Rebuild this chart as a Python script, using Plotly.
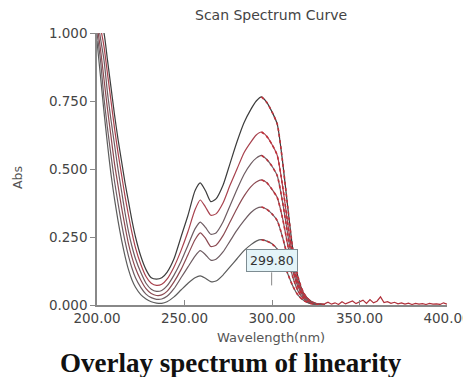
import plotly.graph_objects as go

wavelength = [200, 202, 204, 206, 208, 210, 212, 214, 216, 218, 220, 222, 225, 228, 231, 234, 237, 240,
              244, 248, 252, 256, 259, 262, 265, 268, 272, 276, 280, 284, 288, 291, 294, 297, 300, 303,
              306, 309, 312, 315, 318, 321, 324, 327, 330]

abs_c1 = [1.08, 1.04, 1.0, 0.9, 0.8, 0.7, 0.61, 0.53, 0.45, 0.38, 0.31, 0.25, 0.18, 0.13, 0.10, 0.095, 0.10, 0.12,
          0.17, 0.25, 0.33, 0.42, 0.449, 0.42, 0.38, 0.39, 0.44, 0.52, 0.60, 0.67, 0.72, 0.75, 0.765, 0.745, 0.71, 0.665,
          0.53, 0.36, 0.20, 0.10, 0.045, 0.02, 0.008, 0.003, 0.002]
abs_c2 = [1.08, 1.02, 0.95, 0.85, 0.75, 0.65, 0.56, 0.48, 0.40, 0.33, 0.265, 0.21, 0.15, 0.105, 0.08, 0.072, 0.076, 0.095,
          0.14, 0.20, 0.27, 0.35, 0.386, 0.36, 0.33, 0.335, 0.375, 0.44, 0.50, 0.56, 0.60, 0.625, 0.636, 0.62, 0.59, 0.55,
          0.44, 0.30, 0.17, 0.085, 0.04, 0.017, 0.007, 0.003, 0.002]
abs_c3 = [1.06, 0.98, 0.90, 0.78, 0.68, 0.59, 0.50, 0.42, 0.34, 0.27, 0.215, 0.17, 0.12, 0.08, 0.058, 0.05, 0.053, 0.07,
          0.11, 0.16, 0.22, 0.28, 0.305, 0.285, 0.26, 0.265, 0.305, 0.365, 0.425, 0.48, 0.52, 0.54, 0.55, 0.535, 0.51, 0.475,
          0.38, 0.26, 0.145, 0.075, 0.035, 0.015, 0.006, 0.003, 0.002]
abs_c4 = [1.03, 0.94, 0.83, 0.72, 0.62, 0.52, 0.44, 0.36, 0.29, 0.225, 0.175, 0.135, 0.092, 0.06, 0.042, 0.035, 0.037, 0.05,
          0.085, 0.13, 0.185, 0.24, 0.265, 0.245, 0.215, 0.22, 0.255, 0.305, 0.355, 0.40, 0.435, 0.452, 0.46, 0.45, 0.425, 0.395,
          0.32, 0.22, 0.125, 0.065, 0.03, 0.012, 0.005, 0.002, 0.001]
abs_c5 = [1.0, 0.9, 0.76, 0.65, 0.55, 0.455, 0.375, 0.30, 0.235, 0.18, 0.135, 0.10, 0.065, 0.04, 0.027, 0.021, 0.022, 0.032,
          0.06, 0.10, 0.14, 0.18, 0.20, 0.185, 0.165, 0.168, 0.195, 0.235, 0.275, 0.31, 0.34, 0.355, 0.36, 0.352, 0.335, 0.31,
          0.25, 0.175, 0.10, 0.05, 0.024, 0.01, 0.004, 0.002, 0.001]
abs_c6 = [0.97, 0.84, 0.71, 0.59, 0.48, 0.39, 0.31, 0.24, 0.18, 0.13, 0.092, 0.065, 0.038, 0.022, 0.012, 0.007, 0.006, 0.012,
          0.03, 0.055, 0.08, 0.10, 0.107, 0.098, 0.086, 0.088, 0.11, 0.14, 0.17, 0.20, 0.222, 0.235, 0.24, 0.235, 0.225, 0.205,
          0.165, 0.115, 0.068, 0.035, 0.017, 0.007, 0.003, 0.001, 0.001]

baseline_wl = [330, 332, 334, 336, 338, 340, 342, 344, 346, 348, 350, 352, 354, 356, 358, 360, 362, 364, 366, 368,
               370, 372, 374, 376, 378, 380, 382, 384, 386, 388, 390, 392, 394, 396, 398, 400]
baseline_abs = [0.004, 0.010, 0.003, 0.008, 0.002, 0.012, 0.004, 0.009, 0.015, 0.005, 0.011, 0.018, 0.006, 0.020, 0.008,
                0.014, 0.030, 0.009, 0.012, 0.006, 0.010, 0.004, 0.008, 0.003, 0.007, 0.002, 0.006, 0.003, 0.005, 0.002,
                0.006, 0.003, 0.004, 0.002, 0.008, 0.003]

series = [abs_c1, abs_c2, abs_c3, abs_c4, abs_c5, abs_c6]
line_colors = ["#3c3c3c", "#a8424e", "#6e5c62", "#8c4a52", "#6e5c62", "#5c5c5c"]

x_ticks = [200, 250, 300, 350, 400]
y_ticks = [0.0, 0.25, 0.5, 0.75, 1.0]
peak_label_wl = 299.80
peak_label_abs = 0.165

fig = go.Figure()
for vals, col in zip(series, line_colors):
    fig.add_trace(go.Scatter(x=wavelength, y=vals, mode="lines", line=dict(color=col, width=1.2, shape="spline", smoothing=0.6),
                             hoverinfo="skip", showlegend=False))
    fig.add_trace(go.Scatter(x=wavelength[32:], y=vals[32:], mode="lines",
                             line=dict(color="#c0303a", width=1.6, dash="dot", shape="spline", smoothing=0.6),
                             hoverinfo="skip", showlegend=False))

fig.add_trace(go.Scatter(x=baseline_wl, y=baseline_abs, mode="lines", line=dict(color="#b0303a", width=1.2),
                         hoverinfo="skip", showlegend=False))

fig.add_annotation(x=peak_label_wl, y=peak_label_abs, xref="x", yref="y", text="299.80", showarrow=False,
                   xanchor="center", yanchor="middle",
                   font=dict(family="DejaVu Sans", size=12.5, color="#333"), bgcolor="#e4f4f8",
                   bordercolor="#7d8c92", borderwidth=1, borderpad=3)
fig.add_shape(type="line", xref="x", yref="y", x0=peak_label_wl, x1=peak_label_wl, y0=0.072, y1=0.12,
              line=dict(color="#888", width=1))

tick_font = dict(family="DejaVu Sans", size=13.5, color="#444")
fig.update_layout(
    width=463, height=369,
    margin=dict(l=89, r=24, t=25, b=72, autoexpand=False),
    paper_bgcolor="white", plot_bgcolor="white",
    font=dict(family="DejaVu Sans", size=13, color="#444"),
    xaxis=dict(range=[200, 400], tickvals=x_ticks, tickformat=".2f", ticks="inside", ticklen=5,
               tickcolor="#888", showline=True, linecolor="#888", linewidth=1.5, showgrid=False,
               zeroline=False, tickfont=tick_font, automargin=False),
    yaxis=dict(range=[0, 1], tickvals=y_ticks, tickformat=".3f", ticks="outside", ticklen=5,
               tickcolor="#888", showline=True, linecolor="#888", linewidth=1.5, showgrid=False,
               zeroline=False, tickfont=tick_font, automargin=False),
)

fig.add_annotation(x=0.497, y=1.066, xref="paper", yref="paper", text="Scan Spectrum Curve", showarrow=False,
                   xanchor="center", yanchor="middle",
                   font=dict(family="DejaVu Sans", size=14, color="#444"))
fig.add_annotation(x=0.497, y=-0.12, xref="paper", yref="paper", text="Wavelength(nm)", showarrow=False,
                   xanchor="center", yanchor="middle", borderpad=0,
                   font=dict(family="DejaVu Sans", size=13, color="#555"))
fig.add_annotation(x=-0.2257, y=0.467, xref="paper", yref="paper", text="Abs", showarrow=False, textangle=-90,
                   xanchor="center", yanchor="middle",
                   font=dict(family="DejaVu Sans", size=12.5, color="#555"))
fig.add_annotation(x=0.383, y=-0.212, xref="paper", yref="paper", text="<b>Overlay spectrum of linearity</b>",
                   showarrow=False, xanchor="center", yanchor="middle", borderpad=0,
                   font=dict(family="Liberation Serif", size=27, color="#111"))

fig.write_html("out.html")
